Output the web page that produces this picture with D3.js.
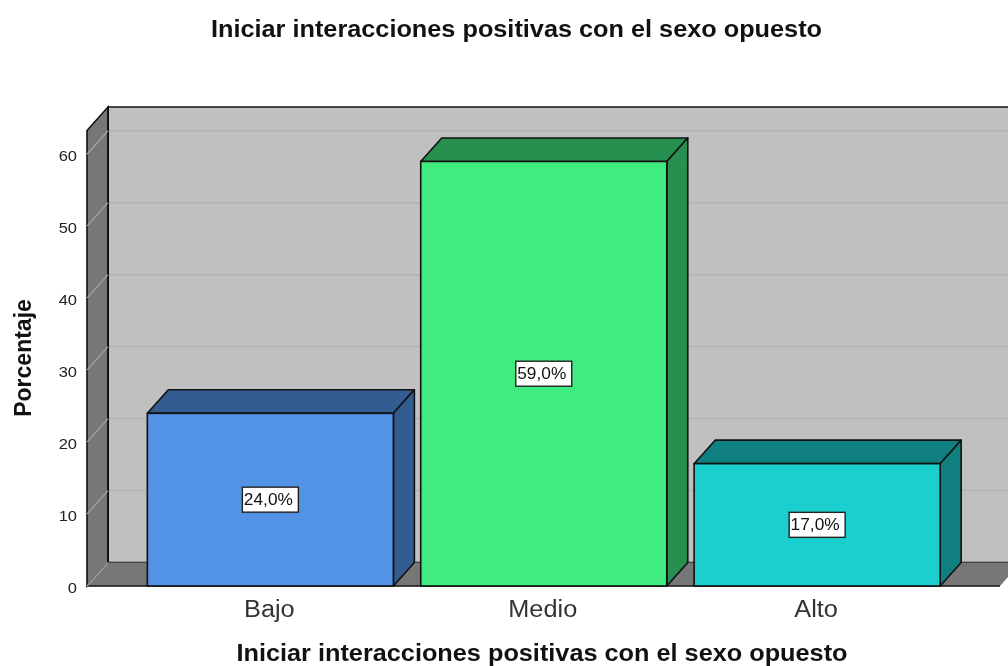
<html>
  <head>
    <title>Iniciar interacciones</title>
    <script src="https://d3js.org/d3.v7.min.js"></script>
    <style>
      body { margin: 0; background: #fff; overflow: hidden; }
      svg { filter: blur(0.4px); }
      text { font-family: "Liberation Sans", Arial, sans-serif; fill: #111; }
    </style>
  </head>
  <body>
    <svg id="visual" width="1008" height="666"></svg>
    <script>
    var categories = ["Bajo", "Medio", "Alto"];
    var values = [24, 59, 17];
    var valueLabels = ["24,0%", "59,0%", "17,0%"];
    var yTicks = [0, 10, 20, 30, 40, 50, 60];
    var frontColors = ["#5393e6", "#40ec80", "#1ccfcf"];
    var sideColors = ["#335c90", "#279050", "#107f7f"];

    var chartTitle = "Iniciar interacciones positivas con el sexo opuesto";

    var svg = d3.select("#visual");

    // depth of the fake 3d box
    var dx = 21, dy = -23.5;
    var plotLeft = 87, plotRight = 1000, plotBottom = 586, plotTop = 130.5;

    var x = d3.scaleBand().domain(categories).range([120, 967.5]).padding(0.1);
    var y = d3.scaleLinear().domain([0, 63.3]).range([plotBottom, plotTop]);

    function pts(a) {
        return a.map(function(p) { return p[0] + "," + p[1]; }).join(" ");
    }

    // back wall
    svg.append("polygon")
        .attr("points", pts([[plotLeft + dx, plotBottom + dy], [plotLeft + dx, plotTop + dy], [plotRight + dx, plotTop + dy], [plotRight + dx, plotBottom + dy]]))
        .attr("fill", "#c0c0c0").attr("stroke", "#111").attr("stroke-width", 1.6);
    // side wall
    svg.append("polygon")
        .attr("points", pts([[plotLeft, plotBottom], [plotLeft, plotTop], [plotLeft + dx, plotTop + dy], [plotLeft + dx, plotBottom + dy]]))
        .attr("fill", "#777777").attr("stroke", "#111").attr("stroke-width", 1.6);
    // floor
    svg.append("polygon")
        .attr("points", pts([[plotLeft, plotBottom], [plotLeft + dx, plotBottom + dy], [plotRight + dx, plotBottom + dy], [plotRight, plotBottom]]))
        .attr("fill", "#777777").attr("stroke", "none");
    svg.append("line")
        .attr("x1", plotLeft).attr("x2", plotRight).attr("y1", plotBottom).attr("y2", plotBottom)
        .attr("stroke", "#111").attr("stroke-width", 1.6);
    svg.append("line")
        .attr("x1", plotLeft + dx).attr("x2", plotLeft + dx).attr("y1", plotTop + dy).attr("y2", plotBottom + dy)
        .attr("stroke", "#111").attr("stroke-width", 1.6);

    // gridlines, back wall then side wall
    var grid = yTicks.filter(function(d) { return d > 0; });
    svg.selectAll(".gridBack").data(grid).enter().append("line")
        .attr("class", "gridBack")
        .attr("x1", plotLeft + dx + 1).attr("x2", plotRight + dx)
        .attr("y1", function(d) { return y(d) + dy; })
        .attr("y2", function(d) { return y(d) + dy; })
        .attr("stroke", "#b2b2b2").attr("stroke-width", 1.5);
    svg.selectAll(".gridSide").data(yTicks).enter().append("line")
        .attr("class", "gridSide")
        .attr("x1", plotLeft).attr("x2", plotLeft + dx)
        .attr("y1", function(d) { return y(d); })
        .attr("y2", function(d) { return y(d) + dy; })
        .attr("stroke", "#a6a6a6").attr("stroke-width", 1.2);

    // bars
    var bar = svg.selectAll(".bar").data(categories).enter().append("g").attr("class", "bar");

    bar.append("polygon")
        .attr("points", function(d, i) {
            var x0 = x(d), x1 = x0 + x.bandwidth(), t = y(values[i]);
            return pts([[x0, t], [x0 + dx, t + dy], [x1 + dx, t + dy], [x1, t]]);
        })
        .attr("fill", function(d, i) { return sideColors[i]; });
    bar.append("polygon")
        .attr("points", function(d, i) {
            var x1 = x(d) + x.bandwidth(), t = y(values[i]);
            return pts([[x1, t], [x1 + dx, t + dy], [x1 + dx, plotBottom + dy], [x1, plotBottom]]);
        })
        .attr("fill", function(d, i) { return sideColors[i]; });
    bar.selectAll("polygon")
        .attr("stroke", "#111").attr("stroke-width", 1.6).attr("stroke-linejoin", "round");
    bar.append("rect")
        .attr("x", function(d) { return x(d); })
        .attr("y", function(d, i) { return y(values[i]); })
        .attr("width", x.bandwidth())
        .attr("height", function(d, i) { return plotBottom - y(values[i]); })
        .attr("fill", function(d, i) { return frontColors[i]; })
        .attr("stroke", "#111").attr("stroke-width", 1.6);

    // value boxes
    bar.append("rect")
        .attr("x", function(d) { return x(d) + x.bandwidth() / 2 - 28; })
        .attr("y", function(d, i) { return (y(values[i]) + plotBottom) / 2 - 12.5; })
        .attr("width", 56).attr("height", 25)
        .attr("fill", "#fff").attr("stroke", "#222").attr("stroke-width", 1.4);
    bar.append("text")
        .attr("x", function(d) { return x(d) + x.bandwidth() / 2 - 2; })
        .attr("y", function(d, i) { return (y(values[i]) + plotBottom) / 2 + 5.5; })
        .attr("text-anchor", "middle")
        .attr("font-size", 16)
        .attr("lengthAdjust", "spacingAndGlyphs").attr("textLength", 49)
        .text(function(d, i) { return valueLabels[i]; });

    // axes
    var yAxis = svg.append("g")
        .attr("transform", "translate(" + plotLeft + ",0)")
        .call(d3.axisLeft(y).tickValues(yTicks).tickSize(0).tickPadding(10));
    yAxis.select(".domain").remove();
    yAxis.selectAll("text")
        .attr("font-size", 15)
        .attr("dy", "0.45em")
        .style("font-family", '"Liberation Sans", Arial, sans-serif')
        .style("fill", "#222")
        .attr("lengthAdjust", "spacingAndGlyphs")
        .attr("textLength", function() { return this.getComputedTextLength() * 1.1; });

    var xAxis = svg.append("g")
        .attr("transform", "translate(-1," + plotBottom + ")")
        .call(d3.axisBottom(x).tickSize(0).tickPadding(15));
    xAxis.select(".domain").remove();
    xAxis.selectAll("text")
        .attr("font-size", 23)
        .style("font-family", '"Liberation Sans", Arial, sans-serif')
        .style("fill", "#333")
        .attr("lengthAdjust", "spacingAndGlyphs")
        .attr("textLength", function() { return this.getComputedTextLength() * 1.1; });

    // titles, the picture has them wider than the plain font
    svg.append("text")
        .attr("x", 516.5).attr("y", 37)
        .attr("text-anchor", "middle")
        .attr("font-size", 23).attr("font-weight", "bold")
        .attr("lengthAdjust", "spacingAndGlyphs").attr("textLength", 611)
        .text(chartTitle);
    svg.append("text")
        .attr("x", 542).attr("y", 661)
        .attr("text-anchor", "middle")
        .attr("font-size", 23).attr("font-weight", "bold")
        .attr("lengthAdjust", "spacingAndGlyphs").attr("textLength", 611)
        .text(chartTitle);
    svg.append("text")
        .attr("transform", "translate(31,358) rotate(-90)")
        .attr("text-anchor", "middle")
        .attr("font-size", 23).attr("font-weight", "bold")
        .text("Porcentaje");
    </script>
  </body>
</html>
